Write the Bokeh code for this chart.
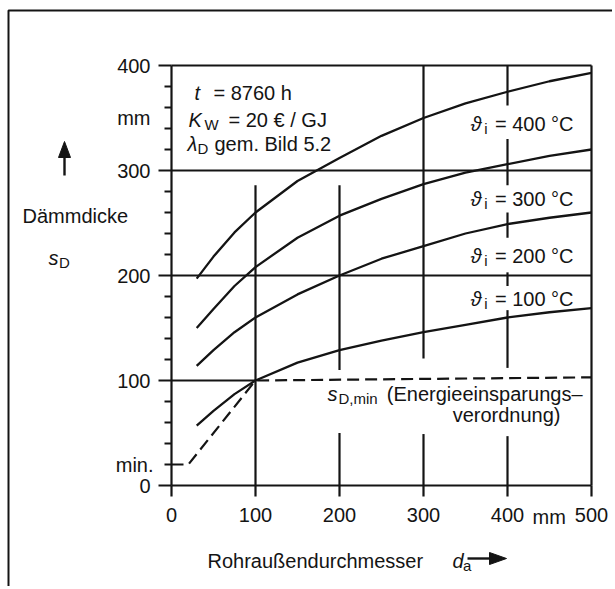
from bokeh.plotting import figure
from bokeh.models import Range1d, FixedTicker
from bokeh.core.properties import value
from bokeh.embed import file_html
from bokeh.resources import INLINE

# ---------------- data ----------------
d_a = [30, 50, 75, 100, 150, 200, 250, 300, 350, 400, 450, 500]
s_400 = [197, 218, 241, 260, 290, 312, 333, 350, 364, 375, 385, 393]
s_300 = [150, 168, 190, 208, 236, 257, 273, 287, 298, 306, 314, 320]
s_200 = [114, 129, 146, 160, 182, 200, 216, 228, 240, 249, 255, 260]
s_100 = [57, 71, 87, 100, 117, 129, 138, 146, 153, 160, 165, 169]

min_x = [0, 20, 100, 500]
min_y = [20, 20, 100, 103]

curve_labels = ["400", "300", "200", "100"]

x_ticks = [0, 100, 200, 300, 400, 500]
y_ticks = [0, 100, 200, 300, 400]
y_minor = [20, 40, 60, 80, 120, 140, 160, 180, 220, 240, 260, 280, 320, 340, 360, 380]

# vertical grid pieces (interrupted behind the labels)
vgrid_x = [100, 200, 200, 300, 300, 400, 400, 400, 400, 400, 400]
vgrid_y0 = [0, 0, 110, 0, 121, 0, 112, 190, 236, 286, 362]
vgrid_y1 = [286, 50, 286, 49, 400, 47, 167, 203, 260, 330, 400]
hgrid_y = [100, 200, 300]
hgrid_x0 = [0, 0, 0]
hgrid_x1 = [100, 500, 500]

INK = "#141414"
FONT = "Liberation Sans"
FS = "20px"
SUB = "15px"

W, H = 612, 586
# plot box: x 0..500 -> page px 171..591, y 0..400 -> page px 485..65
FL, FB = 171, 485
SX, SY = 420 / 500, 420 / 400


def px2x(px):
    return (px - FL) / SX


def py2y(py):
    return (FB - py) / SY


p = figure(width=W, height=H,
           x_range=Range1d(px2x(0), px2x(W)), y_range=Range1d(py2y(H), py2y(0)),
           output_backend="svg", toolbar_location=None,
           min_border_left=0, min_border_right=0, min_border_top=0, min_border_bottom=0)
p.background_fill_color = "white"
p.border_fill_color = "white"
p.xgrid.visible = False
p.ygrid.visible = False
p.outline_line_color = None

xmax, ymax = x_ticks[-1], y_ticks[-1]

for ax in (p.xaxis[0], p.yaxis[0]):
    ax.fixed_location = 0
    ax.axis_line_color = INK
    ax.axis_line_width = 2.2
    ax.major_tick_line_color = INK
    ax.major_tick_line_width = 2.2
    ax.major_tick_in = 0
    ax.major_label_text_font = FONT
    ax.major_label_text_font_size = FS
    ax.major_label_text_color = INK

p.xaxis.bounds = (0, xmax)
p.yaxis.bounds = (0, ymax)
p.xaxis.ticker = FixedTicker(ticks=x_ticks)
p.xaxis.major_tick_out = 11
p.xaxis.major_label_standoff = 11
p.xaxis.minor_tick_line_color = None

p.yaxis.ticker = FixedTicker(ticks=y_ticks, minor_ticks=y_minor)
p.yaxis.major_tick_out = 13
p.yaxis.major_label_standoff = 8
p.yaxis.minor_tick_out = 7
p.yaxis.minor_tick_in = 0
p.yaxis.minor_tick_line_color = INK
p.yaxis.minor_tick_line_width = 2

# box (top and right edges)
p.segment(x0=[0, xmax], y0=[ymax, 0], x1=[xmax, xmax], y1=[ymax, ymax], line_color=INK, line_width=2.2)

# grid
p.segment(x0=vgrid_x, y0=vgrid_y0, x1=vgrid_x, y1=vgrid_y1, line_color=INK, line_width=2.2)
p.segment(x0=hgrid_x0, y0=hgrid_y, x1=hgrid_x1, y1=hgrid_y, line_color=INK, line_width=2.2)

# curves
for ys in (s_400, s_300, s_200, s_100):
    p.line(d_a, ys, line_color=INK, line_width=2.3)
p.line(min_x, min_y, line_color=INK, line_width=2.2, line_dash="12 6")


def lab(px, py, text, size=FS, style="normal", align="left"):
    p.text(x=[px2x(px)], y=[py2y(py)], text=[text], text_font=value(FONT),
           text_font_size=value(size), text_font_style=value(style),
           text_align=value(align), text_baseline=value("middle"), text_color=INK)


# parameter block
r1, r2, r3 = 92, 119, 143
lab(194, r1, "t", style="italic")
lab(213, r1, "= 8760 h")
lab(188, r2, "K", style="italic")
lab(204, r2 + 5, "W", size=SUB)
lab(228, r2, "= 20 € / GJ")
lab(187, r3, "λ", style="italic")
lab(197, r3 + 5, "D", size=SUB)
lab(214, r3, "gem. Bild 5.2")

# curve labels
for t, py in zip(curve_labels, [123, 198, 255, 298]):
    lab(573, py, "= " + t + " °C", align="right")
    lab(487, py + 5, "i", size=SUB, align="right")
    lab(481, py, "ϑ", style="italic", align="right")

# minimum line label
lab(327, 393, "s", style="italic")
lab(338, 398, "D,min", size=SUB)
lab(582, 393, "(Energieeinsparungs–", align="right")
lab(560, 414, "verordnung)", align="right")

# axis extras
lab(150, FB - 350 * SY, "mm", align="right")
lab(153, FB - 20 * SY, "min.", align="right")
lab(532, 516, "mm")

# y title
lab(22, 215, "Dämmdicke")
lab(48, 257, "s", style="italic")
lab(58.5, 262, "D", size=SUB)
# up arrow
p.line([px2x(64), px2x(64)], [py2y(175), py2y(152)], line_color=INK, line_width=2.4)
p.patch([px2x(58), px2x(64), px2x(70)], [py2y(157), py2y(141), py2y(157)],
        fill_color=INK, line_color=INK, line_width=1)

# x title
lab(207, 560, "Rohraußendurchmesser")
lab(452, 560, "d", style="italic")
lab(462.5, 565, "a", size=SUB)
p.line([px2x(467), px2x(494)], [py2y(558), py2y(558)], line_color=INK, line_width=2.4)
p.patch([px2x(489), px2x(506), px2x(489)], [py2y(552), py2y(558), py2y(564)],
        fill_color=INK, line_color=INK, line_width=1)

# page frame (left and top rule of the scanned figure)
p.line([px2x(8), px2x(8), px2x(W)], [py2y(H), py2y(10), py2y(10)], line_color=INK, line_width=2)

open("out.html", "w").write(file_html(p, INLINE))
